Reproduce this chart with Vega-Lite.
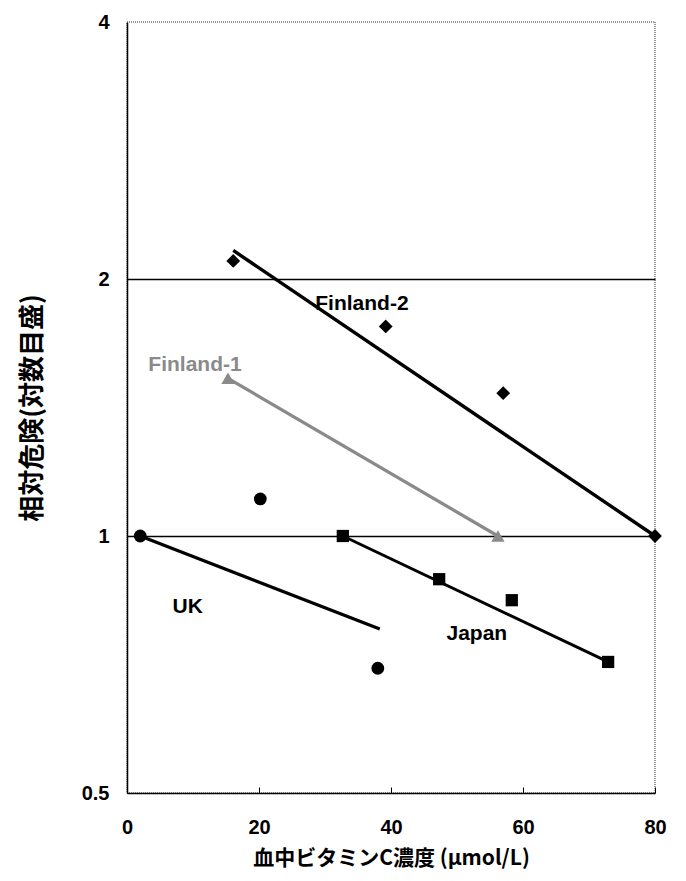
{
  "$schema": "https://vega.github.io/schema/vega-lite/v6.json",
  "width": 528,
  "height": 771,
  "autosize": {"type": "none"},
  "padding": {"left": 127, "top": 22, "right": 31, "bottom": 88},
  "background": "white",
  "config": {
    "view": {"stroke": "#777", "strokeDash": [1, 1], "strokeWidth": 1.5},
    "font": "Liberation Sans"
  },
  "datasets": {
    "points": [
      {"series": "Finland-2", "x": 16.1, "y": 2.10},
      {"series": "Finland-2", "x": 39.2, "y": 1.76},
      {"series": "Finland-2", "x": 57.0, "y": 1.47},
      {"series": "Finland-2", "x": 80.0, "y": 1.0},
      {"series": "Finland-1", "x": 15.3, "y": 1.53},
      {"series": "Finland-1", "x": 56.2, "y": 1.0},
      {"series": "UK", "x": 2.0, "y": 1.0},
      {"series": "UK", "x": 20.2, "y": 1.105},
      {"series": "UK", "x": 38.0, "y": 0.70},
      {"series": "Japan", "x": 32.7, "y": 1.0},
      {"series": "Japan", "x": 47.3, "y": 0.89},
      {"series": "Japan", "x": 58.3, "y": 0.841},
      {"series": "Japan", "x": 72.9, "y": 0.712}
    ],
    "lines": [
      {"series": "Finland-2", "x": 16.1, "y": 2.16},
      {"series": "Finland-2", "x": 80.0, "y": 1.0},
      {"series": "Finland-1", "x": 15.3, "y": 1.53},
      {"series": "Finland-1", "x": 56.2, "y": 1.0},
      {"series": "UK", "x": 2.0, "y": 1.0},
      {"series": "UK", "x": 38.3, "y": 0.778},
      {"series": "Japan", "x": 32.7, "y": 1.0},
      {"series": "Japan", "x": 72.9, "y": 0.712}
    ],
    "labels": [
      {"series": "Finland-2", "x": 35.6, "y": 1.87},
      {"series": "Finland-1", "x": 10.3, "y": 1.585},
      {"series": "UK", "x": 9.2, "y": 0.826},
      {"series": "Japan", "x": 53.0, "y": 0.768}
    ]
  },
  "encoding": {
    "x": {
      "field": "x", "type": "quantitative",
      "scale": {"domain": [0, 80], "nice": false},
      "axis": {
        "values": [0, 20, 40, 60, 80],
        "grid": false,
        "domainColor": "black", "domainWidth": 1.5,
        "tickColor": "black", "tickSize": -6, "tickWidth": 1,
        "labelFont": "Liberation Sans", "labelFontSize": 20, "labelFontWeight": "bold",
        "labelColor": "black", "labelPadding": 30,
        "labelFlush": false,
        "title": "血中ビタミンC濃度 (μmol/L)",
        "titleFont": "Noto Sans CJK JP", "titleFontSize": 21, "titleFontWeight": "bold",
        "titleColor": "black", "titlePadding": 10
      }
    },
    "y": {
      "field": "y", "type": "quantitative",
      "scale": {"type": "log", "base": 2, "domain": [0.5, 4], "nice": false},
      "axis": {
        "values": [0.5, 1, 2, 4],
        "labelExpr": "datum.value == 0.5 ? '0.5' : format(datum.value, 'd')",
        "grid": true,
        "gridColor": "black",
        "gridWidth": 1.3,
        "gridOpacity": {"condition": {"test": "datum.value == 1 || datum.value == 2", "value": 1}, "value": 0},
        "domainColor": "black", "domainWidth": 1.5,
        "ticks": false,
        "labelFont": "Liberation Sans", "labelFontSize": 20, "labelFontWeight": "bold",
        "labelColor": "black", "labelPadding": 18,
        "labelFlush": false,
        "title": "相対危険(対数目盛)",
        "titleFont": "Noto Sans CJK JP", "titleFontSize": 26, "titleFontWeight": "bold",
        "titleColor": "black", "titlePadding": 36
      }
    }
  },
  "layer": [
    {
      "data": {"name": "lines"},
      "mark": {"type": "line", "strokeCap": "butt"},
      "encoding": {
        "detail": {"field": "series"},
        "color": {
          "field": "series", "type": "nominal", "legend": null,
          "scale": {"domain": ["Finland-2", "Finland-1", "UK", "Japan"], "range": ["black", "#8a8a8a", "black", "black"]}
        },
        "strokeWidth": {
          "field": "series", "type": "nominal", "legend": null,
          "scale": {"domain": ["Finland-2", "Finland-1", "UK", "Japan"], "range": [3.4, 3, 3, 3]}
        }
      }
    },
    {
      "data": {"name": "points"},
      "mark": {"type": "point", "filled": true, "opacity": 1},
      "encoding": {
        "shape": {
          "field": "series", "type": "nominal", "legend": null,
          "scale": {"domain": ["Finland-2", "Finland-1", "UK", "Japan"], "range": ["diamond", "triangle-up", "circle", "square"]}
        },
        "size": {
          "field": "series", "type": "nominal", "legend": null,
          "scale": {"domain": ["Finland-2", "Finland-1", "UK", "Japan"], "range": [190, 150, 160, 175]}
        },
        "color": {
          "field": "series", "type": "nominal", "legend": null,
          "scale": {"domain": ["Finland-2", "Finland-1", "UK", "Japan"], "range": ["black", "#8a8a8a", "black", "black"]}
        }
      }
    },
    {
      "data": {"name": "labels"},
      "mark": {"type": "text", "font": "Liberation Sans", "fontSize": 21, "fontWeight": "bold", "align": "center", "baseline": "middle"},
      "encoding": {
        "text": {"field": "series"},
        "color": {
          "field": "series", "type": "nominal", "legend": null,
          "scale": {"domain": ["Finland-2", "Finland-1", "UK", "Japan"], "range": ["black", "#7a7a7a", "black", "black"]}
        }
      }
    }
  ]
}
